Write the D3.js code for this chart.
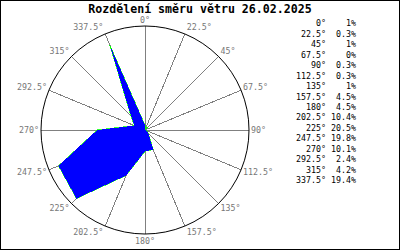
<!DOCTYPE html>
<html>
<head>
<meta charset="utf-8">
<script src="https://cdn.jsdelivr.net/npm/d3@7"></script>
<style>
    body { margin: 0; background: #fff; }
    svg { display: block; }
    text { font-family: "DejaVu Sans Mono", "Liberation Mono", monospace; }
</style>
</head>
<body>
<div id="chart"></div>
<script>
let title = "Rozdělení směru větru 26.02.2025";
let directions = [0, 22.5, 45, 67.5, 90, 112.5, 135, 157.5, 180, 202.5, 225, 247.5, 270, 292.5, 315, 337.5];
let dirLabels = ["0°", "22.5°", "45°", "67.5°", "90°", "112.5°", "135°", "157.5°", "180°", "202.5°", "225°", "247.5°", "270°", "292.5°", "315°", "337.5°"];
let percents = [1, 0.3, 1, 0, 0.3, 0.3, 1, 4.5, 4.5, 10.4, 20.5, 19.8, 10.1, 2.4, 4.2, 19.4];
let percentLabels = ["1%", "0.3%", "1%", "0%", "0.3%", "0.3%", "1%", "4.5%", "4.5%", "10.4%", "20.5%", "19.8%", "10.1%", "2.4%", "4.2%", "19.4%"];

let width = 400, height = 250;
let cx = 145, cy = 130, R = 104;

let svg = d3.select("#chart")
    .append("svg")
    .attr("width", width)
    .attr("height", height);

svg.append("rect")
    .attr("x", 0.5).attr("y", 0.5)
    .attr("width", width - 1).attr("height", height - 1)
    .attr("fill", "#fff")
    .attr("stroke", "#000");

svg.append("text")
    .attr("x", 200).attr("y", 12.5)
    .attr("text-anchor", "middle")
    .attr("font-size", "11.6px")
    .attr("font-weight", "bold")
    .text(title);

let g = svg.append("g")
    .attr("transform", "translate(" + cx + "," + cy + ")");

let r = d3.scaleLinear().domain([0, 22]).range([0, R]);
let rad = d => d * Math.PI / 180;

// spokes
g.selectAll(".spoke")
    .data(directions)
    .enter().append("line")
    .attr("class", "spoke")
    .attr("x1", 0).attr("y1", 0)
    .attr("x2", d => R * Math.sin(rad(d)))
    .attr("y2", d => -R * Math.cos(rad(d)))
    .attr("stroke", "#808080")
    .attr("stroke-width", 1)
    .attr("shape-rendering", "crispEdges");

g.append("circle")
    .attr("r", R)
    .attr("fill", "none")
    .attr("stroke", "#000")
    .attr("stroke-width", 1);

// direction labels
g.selectAll(".dlabel")
    .data(directions)
    .enter().append("text")
    .attr("class", "dlabel")
    .attr("x", d => {
        let s = Math.sin(rad(d));
        return R * s + (s > 0.1 ? 2 : s < -0.1 ? -2 : 0);
    })
    .attr("y", d => -(R + 7) * Math.cos(rad(d)) + (d === 0 ? 1 : 0))
    .attr("dy", "0.35em")
    .attr("text-anchor", d => {
        let s = Math.sin(rad(d));
        return s > 0.1 ? "start" : s < -0.1 ? "end" : "middle";
    })
    .attr("font-size", "8.3px")
    .attr("fill", "#777")
    .text((d, i) => dirLabels[i]);

// rose polygon
let rose = d3.lineRadial()
    .angle(d => rad(d[0]))
    .radius(d => r(d[1]))
    .curve(d3.curveLinearClosed);
let roseData = directions.map((d, i) => [d, percents[i]]);

g.append("path")
    .datum(roseData)
    .attr("d", rose)
    .attr("fill", "none")
    .attr("stroke", "#00ff00")
    .attr("stroke-width", 0.8)
    .attr("shape-rendering", "crispEdges");

g.append("path")
    .datum(roseData)
    .attr("d", rose)
    .attr("fill", "#0000ff")
    .attr("shape-rendering", "crispEdges");

// legend
let legend = svg.append("g");
let rowY = i => 23.5 + i * 10.45;
legend.selectAll(".ldir")
    .data(dirLabels)
    .enter().append("text")
    .attr("x", 326)
    .attr("y", (d, i) => rowY(i))
    .attr("dy", "0.35em")
    .attr("text-anchor", "end")
    .attr("font-size", "8.3px")
    .text(d => d);
legend.selectAll(".lpct")
    .data(percentLabels)
    .enter().append("text")
    .attr("x", 356)
    .attr("y", (d, i) => rowY(i))
    .attr("dy", "0.35em")
    .attr("text-anchor", "end")
    .attr("font-size", "8.3px")
    .text(d => d);
</script>
</body>
</html>
